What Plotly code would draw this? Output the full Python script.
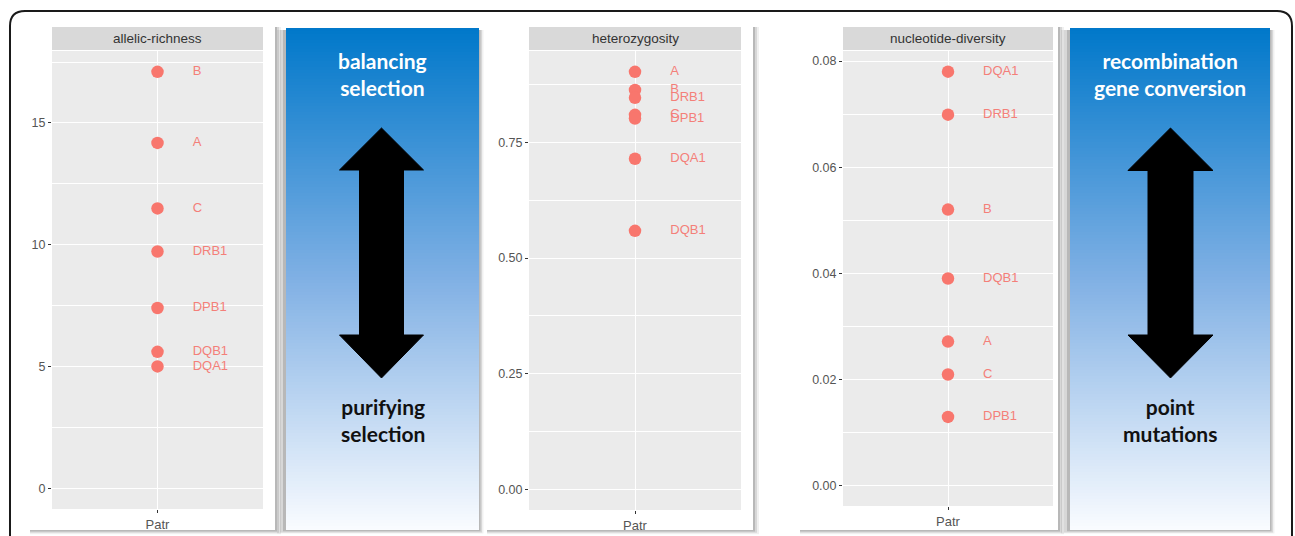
import plotly.graph_objects as go

W, H = 1295, 536

# ---------------- data ----------------
population = "Patr"
panel_titles = ["allelic-richness", "heterozygosity", "nucleotide-diversity"]

richness_loci = ["B", "A", "C", "DRB1", "DPB1", "DQB1", "DQA1"]
richness_vals = [17.10, 14.18, 11.49, 9.72, 7.40, 5.60, 5.00]

het_loci = ["A", "B", "DRB1", "C", "DPB1", "DQA1", "DQB1"]
het_vals = [0.903, 0.864, 0.847, 0.810, 0.802, 0.715, 0.559]

nd_loci = ["DQA1", "DRB1", "B", "DQB1", "A", "C", "DPB1"]
nd_vals = [0.0780, 0.0699, 0.0520, 0.0390, 0.0271, 0.0209, 0.0129]

box_texts_top = ["balancing<br>selection", "recombination<br>gene conversion"]
box_texts_bottom = ["purifying<br>selection", "point<br>mutations"]

# ---------------- helpers ----------------
def px(x):
    return x / W

def py(y):
    return 1 - y / H

def rect(x0, y0, x1, y1, fill, line_w=0, line_c="rgba(0,0,0,0)", layer="below"):
    return dict(type="rect", xref="paper", yref="paper",
                x0=px(x0), x1=px(x1), y0=py(y1), y1=py(y0),
                fillcolor=fill, line=dict(width=line_w, color=line_c), layer=layer)

def poly_path(points):
    s = "M " + " L ".join(f"{px(x):.5f},{py(y):.5f}" for x, y in points) + " Z"
    return s

shapes = []
annotations = []

# outer rounded frame (top part visible)
fx0, fy0, fx1, fy1, r = 10, 11, 1292, 600, 15
frame_path = (f"M {px(fx0):.5f},{py(fy1):.5f} L {px(fx0):.5f},{py(fy0+r):.5f} "
              f"Q {px(fx0):.5f},{py(fy0):.5f} {px(fx0+r):.5f},{py(fy0):.5f} "
              f"L {px(fx1-r):.5f},{py(fy0):.5f} "
              f"Q {px(fx1):.5f},{py(fy0):.5f} {px(fx1):.5f},{py(fy0+r):.5f} "
              f"L {px(fx1):.5f},{py(fy1):.5f}")
shapes.append(dict(type="path", xref="paper", yref="paper", path=frame_path,
                   line=dict(color="#1a1a1a", width=2), layer="below"))

# cards (white with shadow on right/bottom)
cards = [(28, 25, 275, 530), (485, 25, 753, 530), (798, 25, 1058, 530)]
for (x0, y0, x1, y1) in cards:
    for d, a in [(6, 0.06), (4, 0.10), (2, 0.14)]:
        shapes.append(rect(x0 + 2, y0 + 2, x1 + d, y1 + d * 0.7, f"rgba(0,0,0,{a})"))
for (x0, y0, x1, y1) in cards:
    shapes.append(rect(x0, y0, x1, y1, "white"))

# gradient boxes with shadow on left/bottom
boxes = [(286, 28, 479, 530), (1070, 28, 1270, 530)]
stops = [(0.0, (0, 120, 202)), (0.5, (128, 176, 228)), (1.0, (250, 252, 255))]

def grad(t):
    for (t0, c0), (t1, c1) in zip(stops[:-1], stops[1:]):
        if t0 <= t <= t1:
            f = (t - t0) / (t1 - t0)
            return "rgb(%d,%d,%d)" % tuple(round(c0[i] + (c1[i] - c0[i]) * f) for i in range(3))
    return "rgb(%d,%d,%d)" % stops[-1][1]

for (x0, y0, x1, y1) in boxes:
    for d, a in [(9, 0.06), (6, 0.10), (3, 0.14)]:
        shapes.append(rect(x0 - d, y0 + 2, x1 + d * 0.5, y1 + d * 0.4, f"rgba(0,0,0,{a})"))
    shapes.append(rect(x0, y0, x1, y1, "white"))
    step = 3
    y = y0
    while y < y1:
        yb = min(y + step + 0.6, y1)
        t = (y + step / 2 - y0) / (y1 - y0)
        shapes.append(rect(x0, y, x1, yb, grad(t)))
        y += step

# double-headed arrows
def arrow(cx, hw, sw, ytop, yhb1, yhb2, ybot):
    pts = [(cx, ytop), (cx + hw, yhb1), (cx + sw, yhb1), (cx + sw, yhb2), (cx + hw, yhb2),
           (cx, ybot), (cx - hw, yhb2), (cx - sw, yhb2), (cx - sw, yhb1), (cx - hw, yhb1)]
    return dict(type="path", xref="paper", yref="paper", path=poly_path(pts),
                fillcolor="black", line=dict(color="black", width=1), layer="below")

shapes.append(arrow(381.5, 42, 22, 128, 170, 335, 378))
shapes.append(arrow(1170.5, 42.5, 22.5, 128, 170.5, 335, 378))

# box texts
box_cx = [382.5, 1170]
for i in range(2):
    annotations.append(dict(xref="paper", yref="paper", x=px(box_cx[i]), y=py(74),
                            text="<b>" + box_texts_top[i] + "</b>", showarrow=False,
                            xanchor="center", yanchor="middle",
                            font=dict(family="Lato", size=21, color="white")))
    annotations.append(dict(xref="paper", yref="paper", x=px(box_cx[i]), y=py(420),
                            text="<b>" + box_texts_bottom[i] + "</b>", showarrow=False,
                            xanchor="center", yanchor="middle",
                            font=dict(family="Lato", size=21, color="#111111")))

# ---------------- panels ----------------
panels = [(52, 263, 51, 509), (529, 741, 51, 510), (843, 1053, 51, 506)]
datasets = [(richness_loci, richness_vals, 5, ",d"),
            (het_loci, het_vals, 0.25, ".2f"),
            (nd_loci, nd_vals, 0.02, ".2f")]

fig = go.Figure()
layout_axes = {}
TXT = "Liberation Sans"
for k, ((x0, x1, y0, y1), (loci, vals, dtick, fmt), title) in enumerate(zip(panels, datasets, panel_titles)):
    n = k + 1
    xa = "x" if n == 1 else f"x{n}"
    ya = "y" if n == 1 else f"y{n}"
    # panel background and strip
    shapes.append(rect(x0, y0, x1, y1, "#EBEBEB"))
    shapes.append(rect(x0, 27, x1, 50, "#D9D9D9"))
    annotations.append(dict(xref="paper", yref="paper", x=px((x0 + x1) / 2), y=py(39),
                            text=title, showarrow=False, xanchor="center", yanchor="middle",
                            font=dict(family=TXT, size=13.5, color="#333333")))
    lo, hi = 0, max(vals)
    pad = 0.05 * (hi - lo)
    layout_axes["xaxis" if n == 1 else f"xaxis{n}"] = dict(
        domain=[px(x0), px(x1)], range=[0.4, 1.6], anchor=ya,
        tickmode="array", tickvals=[1], ticktext=[population],
        showgrid=True, gridcolor="white", gridwidth=1.2, zeroline=False,
        ticks="outside", ticklen=3, tickcolor="#333333", tickwidth=1,
        tickfont=dict(family=TXT, size=13, color="#555555"), showline=False, fixedrange=True)
    layout_axes["yaxis" if n == 1 else f"yaxis{n}"] = dict(
        domain=[py(y1), py(y0)], range=[lo - pad, hi + pad], anchor=xa,
        tickmode="linear", tick0=0, dtick=dtick, tickformat=fmt,
        showgrid=True, gridcolor="white", gridwidth=1.2, zeroline=False,
        minor=dict(tick0=dtick / 2, dtick=dtick, showgrid=True, gridcolor="white", gridwidth=0.6, ticks=""),
        ticks="outside", ticklen=3, tickcolor="#333333", tickwidth=1,
        tickfont=dict(family=TXT, size=12.5, color="#555555"), showline=False, fixedrange=True)
    fig.add_trace(go.Scatter(x=[1] * len(vals), y=vals, mode="markers", xaxis=xa, yaxis=ya,
                             marker=dict(size=12.5, color="#F8766D", line=dict(width=0)),
                             showlegend=False, hoverinfo="skip"))
    fig.add_trace(go.Scatter(x=[1.2] * len(vals), y=vals, mode="text", text=loci,
                             textposition="middle right", xaxis=xa, yaxis=ya,
                             textfont=dict(family=TXT, size=13, color="#F47F79"),
                             cliponaxis=False, showlegend=False, hoverinfo="skip"))

fig.update_layout(width=W, height=H, margin=dict(l=0, r=0, t=0, b=0),
                  paper_bgcolor="white", plot_bgcolor="rgba(0,0,0,0)",
                  shapes=shapes, annotations=annotations, showlegend=False,
                  **layout_axes)

fig.write_html("out.html", config=dict(displayModeBar=False))
